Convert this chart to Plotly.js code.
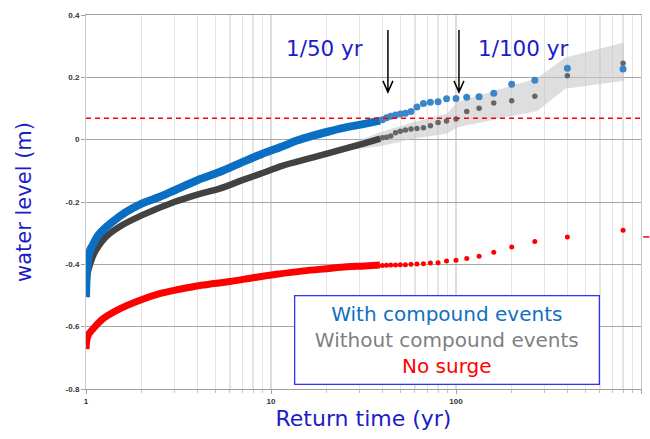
<!DOCTYPE html>
<html>
<head>
<meta charset="utf-8">
<script src="https://cdn.plot.ly/plotly-3.0.1.min.js"></script>
<style>html,body{margin:0;padding:0;background:#fff;}#chart{width:650px;height:439px;}</style>
</head>
<body>
<div id="chart"></div>
<script>
// ---- Data ----
// Dense part (overlapping markers) : return time (yr) and water level (m)
const blueDenseT = [1.0, 1.002, 1.006, 1.015, 1.03, 1.06, 1.086, 1.14, 1.2, 1.39, 1.65, 2.0, 2.49, 3.0, 4.0, 5.27, 7.0, 9.0, 11.5, 13.8, 16.9, 20.8, 25.7, 31.6, 38.9];
const blueDenseV = [-0.505, -0.48, -0.45, -0.41, -0.378, -0.35, -0.339, -0.315, -0.298, -0.264, -0.232, -0.205, -0.184, -0.163, -0.130, -0.104, -0.072, -0.045, -0.022, -0.003, 0.013, 0.027, 0.040, 0.050, 0.061];

const grayDenseT = [1.0, 1.003, 1.008, 1.02, 1.04, 1.08, 1.13, 1.28, 1.51, 2.0, 3.0, 4.0, 5.27, 7.0, 9.0, 11.5, 16.9, 25.7, 32, 38.9];
const grayDenseV = [-0.505, -0.48, -0.455, -0.43, -0.409, -0.38, -0.355, -0.312, -0.280, -0.243, -0.200, -0.176, -0.157, -0.130, -0.107, -0.084, -0.057, -0.027, -0.012, 0.003];

const redDenseT = [1.0, 1.005, 1.015, 1.04, 1.095, 1.24, 1.53, 1.96, 2.5, 3.2, 4.2, 6.0, 8.0, 10.7, 15, 20, 25.7, 32, 38.8];
const redDenseV = [-0.672, -0.655, -0.638, -0.622, -0.606, -0.574, -0.542, -0.515, -0.494, -0.480, -0.467, -0.455, -0.443, -0.432, -0.421, -0.414, -0.408, -0.405, -0.402];

// Sparse tail (individual markers)
const tailT = [800, 400, 266.7, 200, 160, 133.3, 114.3, 100, 88.9, 80, 72.7, 66.7, 61.5, 57.1, 53.3, 50, 47.1, 44.4, 42.1, 40];
const blueTailV = [0.227, 0.229, 0.191, 0.178, 0.149, 0.138, 0.136, 0.132, 0.131, 0.122, 0.120, 0.116, 0.105, 0.090, 0.085, 0.082, 0.079, 0.075, 0.070, 0.064];
const grayTailV = [0.245, 0.205, 0.139, 0.125, 0.118, 0.101, 0.090, 0.066, 0.060, 0.055, 0.045, 0.038, 0.036, 0.034, 0.031, 0.027, 0.022, 0.012, 0.008, 0.006];
const redTailV  = [-0.291, -0.312, -0.327, -0.344, -0.361, -0.374, -0.381, -0.387, -0.389, -0.395, -0.396, -0.398, -0.399, -0.400, -0.401, -0.401, -0.402, -0.402, -0.403, -0.404];

// Confidence band around "without compound events"
const bandT     = [9.0, 16.9, 25.7, 38.9, 58.6, 89, 102, 275, 390, 808];
const bandLower = [-0.111, -0.062, -0.034, -0.021, 0.003, 0.019, 0.040, 0.092, 0.163, 0.189];
const bandUpper = [-0.103, -0.050, -0.018, 0.024, 0.056, 0.083, 0.122, 0.197, 0.264, 0.312];

const thresholdLevel = 0.069;
const offChartRedV = -0.312;

const xTickVals = [1, 10, 100, 1000];
const xTickText = ['1', '10', '100', '1000'];
const yTickVals = [0.4, 0.2, 0, -0.2, -0.4, -0.6, -0.8];
const yTickText = ['0.4', '0.2', '0', '-0.2', '-0.4', '-0.6', '-0.8'];
const seriesNames = ['With compound events', 'Without compound events', 'No surge'];

// minor grid positions (2..9 in each decade)
const xMinor = [];
[1, 10, 100].forEach(d => { for (let m = 2; m <= 9; m++) xMinor.push(d * m); });

const BLUE = '#0a6fc2', BLUE_PT = '#3b86c9', GRAY = '#424242', GRAY_PT = '#666666', RED = '#ff0000';
const TITLE_BLUE = '#1c1cc8';

const traces = [
  { x: bandT.concat(bandT.slice().reverse()), y: bandUpper.concat(bandLower.slice().reverse()),
    type: 'scatter', mode: 'lines', fill: 'toself', fillcolor: 'rgba(200,200,200,0.6)',
    line: { width: 0 }, hoverinfo: 'skip', showlegend: false },
  { x: redDenseT, y: redDenseV, type: 'scatter', mode: 'lines', line: { color: RED, width: 7, shape: 'spline', smoothing: 1 }, showlegend: false },
  { x: tailT, y: redTailV, type: 'scatter', mode: 'markers', name: seriesNames[2], marker: { color: RED, size: 5 }, showlegend: false },
  { x: grayDenseT, y: grayDenseV, type: 'scatter', mode: 'lines', line: { color: GRAY, width: 6.5, shape: 'spline', smoothing: 1 }, showlegend: false },
  { x: tailT, y: grayTailV, type: 'scatter', mode: 'markers', name: seriesNames[1], marker: { color: GRAY_PT, size: 5.5 }, showlegend: false },
  { x: blueDenseT, y: blueDenseV, type: 'scatter', mode: 'lines', line: { color: BLUE, width: 8, shape: 'spline', smoothing: 1 }, showlegend: false },
  { x: tailT, y: blueTailV, type: 'scatter', mode: 'markers', name: seriesNames[0], marker: { color: BLUE_PT, size: 7 }, showlegend: false }
];

function arrowPath(px) {
  const top = 0.960, tip = 0.794, hw = 0.009, hh = 0.030;
  return `M ${px},${top} L ${px},${tip} M ${px - hw},${tip + hh} L ${px},${tip} L ${px + hw},${tip + hh}`;
}

const layout = {
  width: 650, height: 439,
  margin: { l: 86, r: 9, t: 15, b: 50 },
  paper_bgcolor: '#ffffff', plot_bgcolor: '#ffffff',
  showlegend: false,
  font: { family: 'DejaVu Sans, Verdana, sans-serif' },
  xaxis: {
    type: 'log', range: [0, 3],
    tickmode: 'array', tickvals: xTickVals, ticktext: xTickText,
    tickfont: { family: 'Liberation Sans, Arial, sans-serif', size: 8, weight: 'bold', color: '#333333' },
    ticks: 'outside', ticklen: 4, tickcolor: '#a0a0a0',
    showgrid: true, gridcolor: '#dcdcdc', gridwidth: 1.2,
    minor: { tickmode: 'array', tickvals: xMinor, showgrid: true, gridcolor: '#e4e4e4', gridwidth: 1.2, ticks: 'outside', ticklen: 3, tickcolor: '#c0c0c0' },
    showline: true, linecolor: '#a0a0a0', linewidth: 1, mirror: true,
    zeroline: false,
    title: { text: 'Return time (yr)', font: { family: 'DejaVu Sans, Verdana, sans-serif', size: 22, color: TITLE_BLUE }, standoff: 6 }
  },
  yaxis: {
    range: [-0.8, 0.4],
    tickmode: 'array', tickvals: yTickVals, ticktext: yTickText,
    tickfont: { family: 'Liberation Sans, Arial, sans-serif', size: 8, weight: 'bold', color: '#333333' },
    ticks: 'outside', ticklen: 4, tickcolor: '#a0a0a0',
    showgrid: true, gridcolor: '#a6a6a6', gridwidth: 1,
    showline: true, linecolor: '#c8c8c8', linewidth: 1, mirror: true,
    zeroline: false,
    title: { text: 'water level (m)', font: { family: 'DejaVu Sans, Verdana, sans-serif', size: 21, color: TITLE_BLUE }, standoff: 28 }
  },
  shapes: [
    { type: 'line', xref: 'paper', yref: 'y', x0: 0, x1: 1, y0: thresholdLevel, y1: thresholdLevel,
      line: { color: RED, width: 1.5, dash: '5px,4px' } },
    { type: 'path', xref: 'paper', yref: 'paper', path: arrowPath(0.544), line: { color: '#000', width: 1.5 } },
    { type: 'path', xref: 'paper', yref: 'paper', path: arrowPath(0.672), line: { color: '#000', width: 1.5 } },
    { type: 'line', xref: 'paper', yref: 'y', x0: 1.004, x1: 1.015, y0: offChartRedV, y1: offChartRedV,
      line: { color: RED, width: 1.5 } }
  ],
  annotations: [
    { xref: 'paper', yref: 'paper', x: 0.430, y: 0.911, text: '1/50 yr', showarrow: false,
      font: { size: 21.5, color: TITLE_BLUE }, xanchor: 'center', yanchor: 'middle' },
    { xref: 'paper', yref: 'paper', x: 0.788, y: 0.911, text: '1/100 yr', showarrow: false,
      font: { size: 21.5, color: TITLE_BLUE }, xanchor: 'center', yanchor: 'middle' },
    { xref: 'paper', yref: 'paper', x: 0.651, y: 0.132, xanchor: 'center', yanchor: 'middle', showarrow: false,
      text: `<span style="color:#1070c0">${seriesNames[0]}</span><br><span style="color:#808080">${seriesNames[1]}</span><br><span style="color:#ff0000">${seriesNames[2]}</span>`,
      font: { size: 20, color: '#1070c0' }, align: 'center',
      bgcolor: '#ffffff', bordercolor: 'rgb(50,50,255)', borderwidth: 1.3, borderpad: 2, width: 299, height: 83 }
  ]
};

Plotly.newPlot('chart', traces, layout, { staticPlot: true, displayModeBar: false });
</script>
</body>
</html>
